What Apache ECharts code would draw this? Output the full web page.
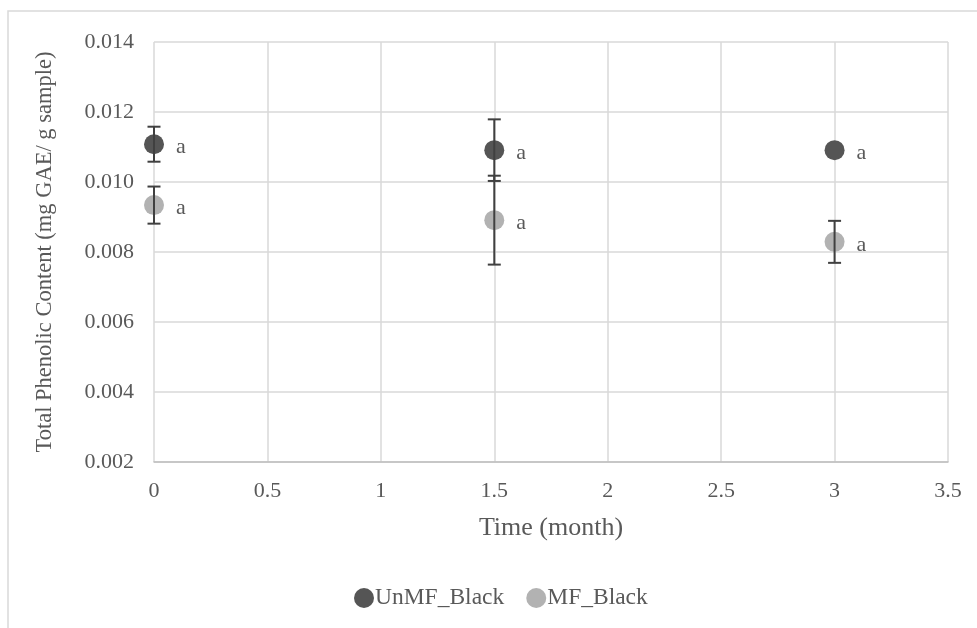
<!DOCTYPE html>
<html>
<head>
<meta charset="utf-8">
<script src="https://cdn.jsdelivr.net/npm/echarts@6/dist/echarts.min.js"></script>
<style>
  html, body { margin: 0; padding: 0; background: #fff; }
  #main { width: 977px; height: 628px; }
</style>
</head>
<body>
<div id="main"></div>
<script>
// data
let months = [0, 1.5, 3];
let unmfMean = [0.01108, 0.01091, 0.01091];
let unmfErr = [0.00050, 0.00088, 0];
let mfMean = [0.00934, 0.00891, 0.00829];
let mfErr = [0.00053, 0.00127, 0.00060];
let letters = ['a', 'a', 'a'];

const font = '"Liberation Serif", "Times New Roman", serif';
const txt = '#595959';

function pts(mean) {
	return months.map((m, i) => [m, mean[i]]);
}
function bars(mean, err) {
	return months.map((m, i) => [m, mean[i] - err[i], mean[i] + err[i]]);
}

// error bar drawer
function errItem(params, api) {
	let x = api.value(0);
	let lo = api.coord([x, api.value(1)]);
	let hi = api.coord([x, api.value(2)]);
	if (Math.abs(lo[1] - hi[1]) < 1) return null;
	let w = 6.5;
	let st = { stroke: '#404040', lineWidth: 2 };
	return {
		type: 'group',
		children: [
			{ type: 'line', shape: { x1: lo[0], y1: lo[1], x2: hi[0], y2: hi[1] }, style: st },
			{ type: 'line', shape: { x1: lo[0] - w, y1: lo[1], x2: lo[0] + w, y2: lo[1] }, style: st },
			{ type: 'line', shape: { x1: hi[0] - w, y1: hi[1], x2: hi[0] + w, y2: hi[1] }, style: st }
		]
	};
}

let myChart = echarts.init(document.getElementById('main'));

let option = {
	animation: false,
	backgroundColor: '#fff',
	textStyle: { fontFamily: font },
	graphic: [{
		type: 'rect',
		shape: { x: 8, y: 11, width: 980, height: 640 },
		style: { fill: 'none', stroke: '#d9d9d9', lineWidth: 1.5 },
		silent: true
	}],
	grid: { left: 154, right: 29, top: 42, bottom: 166 },
	xAxis: {
		type: 'value',
		min: 0, max: 3.5, interval: 0.5,
		name: 'Time (month)',
		nameLocation: 'middle',
		nameGap: 53,
		nameTextStyle: { color: txt, fontSize: 26, fontFamily: font },
		axisLine: { show: true, lineStyle: { color: '#bfbfbf', width: 1.5 } },
		axisTick: { show: false },
		axisLabel: { color: txt, fontSize: 22, fontFamily: font, margin: 18 },
		splitLine: { show: true, lineStyle: { color: '#d9d9d9', width: 1.5 } }
	},
	yAxis: {
		type: 'value',
		min: 0.002, max: 0.014, interval: 0.002,
		name: 'Total Phenolic Content (mg GAE/ g sample)',
		nameLocation: 'middle',
		nameGap: 97,
		nameTextStyle: { color: txt, fontSize: 22.5, fontFamily: font },
		axisLine: { show: false },
		axisTick: { show: false },
		axisLabel: {
			color: txt, fontSize: 22, fontFamily: font, margin: 20,
			formatter: v => v.toFixed(3)
		},
		splitLine: { show: true, lineStyle: { color: '#d9d9d9', width: 1.5 } }
	},
	legend: {
		bottom: 13,
		left: 349,
		itemGap: 22,
		itemWidth: 20,
		itemHeight: 20,
		icon: 'circle',
		textStyle: { color: txt, fontSize: 23.5, fontFamily: font, padding: [0, 0, 0, -4] },
		data: ['UnMF_Black', 'MF_Black']
	},
	series: [
		{
			name: 'UnMF_Black',
			type: 'scatter',
			symbolSize: 20,
			itemStyle: { color: '#555555', opacity: 1 },
			data: pts(unmfMean),
			z: 3,
			label: {
				show: true, position: 'right', distance: 12, offset: [0, 3],
				formatter: p => letters[p.dataIndex],
				color: txt, fontSize: 22, fontFamily: font
			}
		},
		{
			name: 'MF_Black',
			type: 'scatter',
			symbolSize: 20,
			itemStyle: { color: '#b2b2b2', opacity: 1 },
			data: pts(mfMean),
			z: 3,
			label: {
				show: true, position: 'right', distance: 12, offset: [0, 3],
				formatter: p => letters[p.dataIndex],
				color: txt, fontSize: 22, fontFamily: font
			}
		},
		{
			type: 'custom',
			renderItem: errItem,
			data: bars(unmfMean, unmfErr),
			encode: { x: 0, y: [1, 2] },
			z: 4,
			silent: true
		},
		{
			type: 'custom',
			renderItem: errItem,
			data: bars(mfMean, mfErr),
			encode: { x: 0, y: [1, 2] },
			z: 4,
			silent: true
		}
	]
};
myChart.setOption(option);
</script>
</body>
</html>
